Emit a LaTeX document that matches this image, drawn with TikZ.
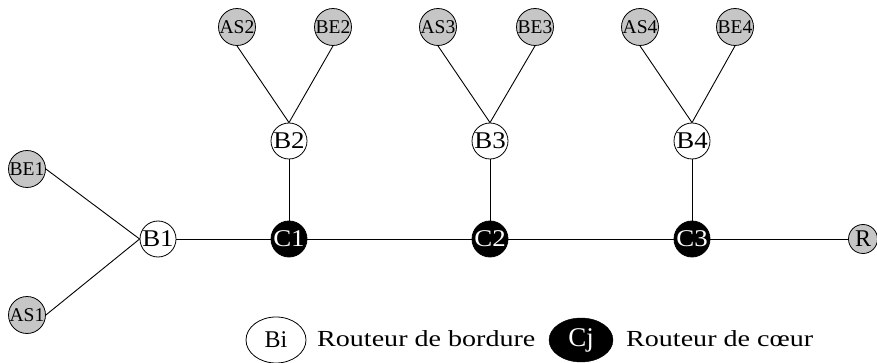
\documentclass[tikz,border=0pt]{standalone}
\usepackage{fontspec}
\setmainfont{Liberation Serif}
\newfontfamily\widefont[FakeStretch=1.22]{Liberation Serif}
\newfontfamily\midfont[FakeStretch=1.12]{Liberation Serif}
\usetikzlibrary{shapes.geometric}

\tikzset{
  bord/.style={circle, draw, fill=white, line width=0.8pt, minimum size=36pt,
    inner sep=0pt, font=\midfont\fontsize{24}{24}\selectfont},
  coeur/.style={bord, fill=black, text=white},
  ext/.style={bord, fill=gray!45, font=\fontsize{19.5}{19.5}\selectfont},
  lien/.style={line width=0.9pt}
}

\begin{document}
\begin{tikzpicture}[x=1pt, y=-1pt]
    \useasboundingbox (0, 0) rectangle (877, 363);
    % routeurs de bordure et de coeur
    \node[bord] (b1) at (158, 239) {B1};
    \node[coeur] (c1) at (289, 239) {C1};
    \node[coeur] (c2) at (490, 239) {C2};
    \node[coeur] (c3) at (692, 239) {C3};
    \node[bord] (b2) at (289, 141) {B2};
    \node[bord] (b3) at (490, 141) {B3};
    \node[bord] (b4) at (692, 141) {B4};
    % voisins
    \node[ext] (be1) at (27, 169) {BE1};
    \node[ext] (as1) at (27, 315) {AS1};
    \node[ext] (as2) at (237, 27) {AS2};
    \node[ext] (be2) at (333, 27) {BE2};
    \node[ext] (as3) at (438, 27) {AS3};
    \node[ext] (be3) at (535, 27) {BE3};
    \node[ext] (as4) at (640, 27) {AS4};
    \node[ext] (be4) at (735, 27) {BE4};
    \node[ext, minimum size=29pt, font=\fontsize{24}{24}\selectfont] (r) at (863, 239) {R};
    % legende
    \node[ellipse, draw, line width=0.8pt, minimum width=60pt, minimum height=46pt,
      inner sep=0pt, font=\fontsize{24}{24}\selectfont] (lb) at (276, 340) {Bi};
    \node[anchor=base west, inner sep=0pt, font=\widefont\fontsize{23}{23}\selectfont]
      (tb) at (317, 346) {Routeur de bordure};
    \node[ellipse, draw, fill=black, text=white, minimum width=64pt, minimum height=44pt,
      inner sep=0pt, font=\fontsize{27}{27}\selectfont] (lc) at (581, 340) {Cj};
    \node[anchor=base west, inner sep=0pt, font=\widefont\fontsize{23}{23}\selectfont]
      (tc) at (626, 346) {Routeur de c\oe ur};
    % liens
    \draw[lien] (be1.east) -- (b1.west);
    \draw[lien] (as1.east) -- (b1.west);
    \draw[lien] (b1) -- (c1);
    \draw[lien] (c1) -- (c2);
    \draw[lien] (c2) -- (c3);
    \draw[lien] (c3) -- (r);
    \draw[lien] (c1) -- (b2);
    \draw[lien] (c2) -- (b3);
    \draw[lien] (c3) -- (b4);
    \draw[lien] (as2.south) -- (b2.north);
    \draw[lien] (be2.south) -- (b2.north);
    \draw[lien] (as3.south) -- (b3.north);
    \draw[lien] (be3.south) -- (b3.north);
    \draw[lien] (as4.south) -- (b4.north);
    \draw[lien] (be4.south) -- (b4.north);
\end{tikzpicture}
\end{document}
